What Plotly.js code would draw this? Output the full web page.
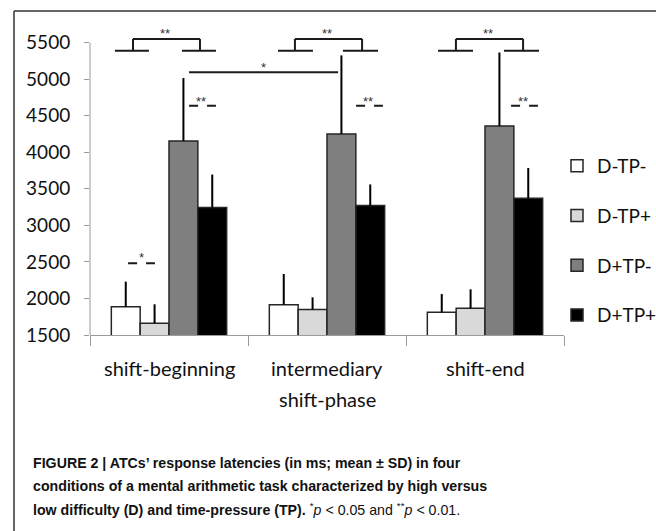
<!DOCTYPE html>
<html>
<head>
<meta charset="utf-8">
<script src="https://cdn.plot.ly/plotly-3.0.1.min.js"></script>
<style>html,body{margin:0;padding:0;background:#fff;}#chart{width:656px;height:531px;}</style>
</head>
<body>
<div id="chart"></div>
<script>
// ---- data ----
const categories = ['shift-beginning', 'intermediary shift-phase', 'shift-end'];
const categoryLines = [['shift-beginning'], ['intermediary', 'shift-phase'], ['shift-end']];
const seriesNames = ['D-TP-', 'D-TP+', 'D+TP-', 'D+TP+'];
const meanDmTPm = [1885, 1915, 1810];
const meanDmTPp = [1660, 1850, 1865];
const meanDpTPm = [4155, 4250, 4360];
const meanDpTPp = [3245, 3270, 3370];
const sdDmTPm = [345, 420, 250];
const sdDmTPp = [260, 165, 260];
const sdDpTPm = [860, 1075, 1005];
const sdDpTPp = [450, 290, 415];
const yTicks = [1500, 2000, 2500, 3000, 3500, 4000, 4500, 5000, 5500];

// ---- styling ----
const colors = ['#ffffff', '#d9d9d9', '#7f7f7f', '#000000'];
const means = [meanDmTPm, meanDmTPp, meanDpTPm, meanDpTPp];
const sds = [sdDmTPm, sdDmTPp, sdDpTPm, sdDpTPp];
const font = 'Lato, "Open Sans", sans-serif';
const axisGrey = '#9a9a9a';

const traces = seriesNames.map((name, i) => ({
  type: 'bar',
  name: name,
  legendgroup: 'g' + i,
  x: categories,
  y: means[i],
  base: 0,
  marker: {color: colors[i], line: {color: '#262626', width: 1.5}},
  error_y: {type: 'data', symmetric: false, array: sds[i], arrayminus: sds[i].map(() => 0),
            width: 0, thickness: 2, color: '#000'}
}));

// plot-area geometry in px (for paper-referenced frame/caption)
const L = 90, R = 92, T = 28, B = 196, W = 656, H = 531;
const pw = W - L - R, ph = H - T - B;
const px = v => (v - L) / pw;
const py = v => (H - B - v) / ph;

const shapes = [];
const annotations = [];
const ln = (x0, y0, x1, y1, dash) => shapes.push({type: 'line', xref: 'x', yref: 'y', x0, y0, x1, y1,
  line: {color: '#1a1a1a', width: 2, dash: dash || 'solid'}});
const star = (x, y, t) => annotations.push({xref: 'x', yref: 'y', x, y, text: t, showarrow: false,
  font: {family: 'Arial, sans-serif', size: 13, color: '#333'}});

// y axis line (1500 - 5500 only)
shapes.push({type: 'line', xref: 'paper', yref: 'y', x0: 0, x1: 0, y0: yTicks[0], y1: yTicks[yTicks.length - 1],
  line: {color: axisGrey, width: 1}});

// figure frame (left and top edges)
shapes.push({type: 'line', xref: 'paper', yref: 'paper', x0: px(14), x1: px(14), y0: py(11), y1: py(540),
  line: {color: '#333', width: 1.5}});
shapes.push({type: 'line', xref: 'paper', yref: 'paper', x0: px(14), x1: px(660), y0: py(11), y1: py(11),
  line: {color: '#333', width: 1.5}});

// brackets comparing low vs high difficulty in each phase (**)
const brk = [
  {lv: -0.228, rv: 0.196, l: [-0.342, -0.127], r: [0.082, 0.297]},
  {lv: -0.203, rv: 0.222, l: [-0.310, -0.089], r: [0.101, 0.323]},
  {lv: -0.184, rv: 0.241, l: [-0.297, -0.076], r: [0.120, 0.342]}
];
const yBrTop = 5550, yBrBot = 5390;
brk.forEach((b, g) => {
  ln(g + b.l[0], yBrBot, g + b.l[1], yBrBot);
  ln(g + b.r[0], yBrBot, g + b.r[1], yBrBot);
  ln(g + b.lv, yBrBot, g + b.lv, yBrTop);
  ln(g + b.rv, yBrBot, g + b.rv, yBrTop);
  ln(g + b.lv, yBrTop, g + b.rv, yBrTop);
  star(g + (b.lv + b.rv) / 2 - 0.01, yBrTop + 70, '**');
});

// dashed ** between D+TP- and D+TP+
const dsh = [[0.127, 0.297], [0.184, 0.354], [0.165, 0.335]];
dsh.forEach((d, g) => {
  ln(g + d[0], 4635, g + d[1], 4635, 'dash');
  star(g + (d[0] + d[1]) / 2 - 0.01, 4700, '**');
});

// dashed * between D-TP- and D-TP+ at shift-beginning
ln(-0.259, 2480, -0.089, 2480, 'dash');
star(-0.174, 2555, '*');

// long * line D+TP- shift-beginning vs intermediary
ln(0.127, 5095, 1.07, 5095);
star(0.6, 5160, '*');

// category labels
categoryLines.forEach((lines, g) => {
  lines.forEach((t, k) => annotations.push({xref: 'x', yref: 'paper', x: g, y: py(368 + 31 * k),
    yanchor: 'middle', text: t, showarrow: false, font: {family: font, size: 20, color: '#111'}}));
});

// caption
const capFont = {family: '"Liberation Sans", Arial, sans-serif', size: 14.2, color: '#111'};
const caption = [
  '<b>FIGURE 2 | ATCs\u2019 response latencies (in ms; mean \u00b1 SD) in four</b>',
  '<b>conditions of a mental arithmetic task characterized by high versus</b>',
  '<b>low difficulty (D) and time-pressure (TP).</b> <sup>*</sup><i>p</i> &lt; 0.05 and <sup>**</sup><i>p</i> &lt; 0.01.'
];
caption.forEach((t, k) => annotations.push({xref: 'paper', yref: 'paper', x: px(31), y: py(463 + 23 * k),
  xanchor: 'left', yanchor: 'middle', text: t, showarrow: false, font: capFont}));

const layout = {
  width: W, height: H,
  margin: {l: L, r: R, t: T, b: B, autoexpand: false},
  paper_bgcolor: '#fff', plot_bgcolor: '#fff',
  barmode: 'group', bargap: 0.27, bargroupgap: 0,
  font: {family: font, size: 19, color: '#111'},
  xaxis: {type: 'category', range: [-0.5, 2.5], showline: true, linecolor: axisGrey, linewidth: 1,
          ticks: 'outside', tickson: 'boundaries', ticklen: 10, tickcolor: axisGrey,
          showticklabels: false, showgrid: false, zeroline: false, fixedrange: true},
  yaxis: {range: [1500, 5700], tickvals: yTicks, ticks: 'outside', ticklen: 5, tickcolor: axisGrey,
          ticklabelstandoff: 10, showline: false, showgrid: false, zeroline: false,
          tickfont: {family: font, size: 19, color: '#111'}},
  legend: {x: px(557), xanchor: 'left', y: py(240.5), yanchor: 'middle', tracegroupgap: 22,
           font: {family: font, size: 19, color: '#111'}, bgcolor: 'rgba(0,0,0,0)'},
  showlegend: true,
  shapes: shapes,
  annotations: annotations
};

Plotly.newPlot('chart', traces, layout, {displayModeBar: false, staticPlot: true});
</script>
</body>
</html>
